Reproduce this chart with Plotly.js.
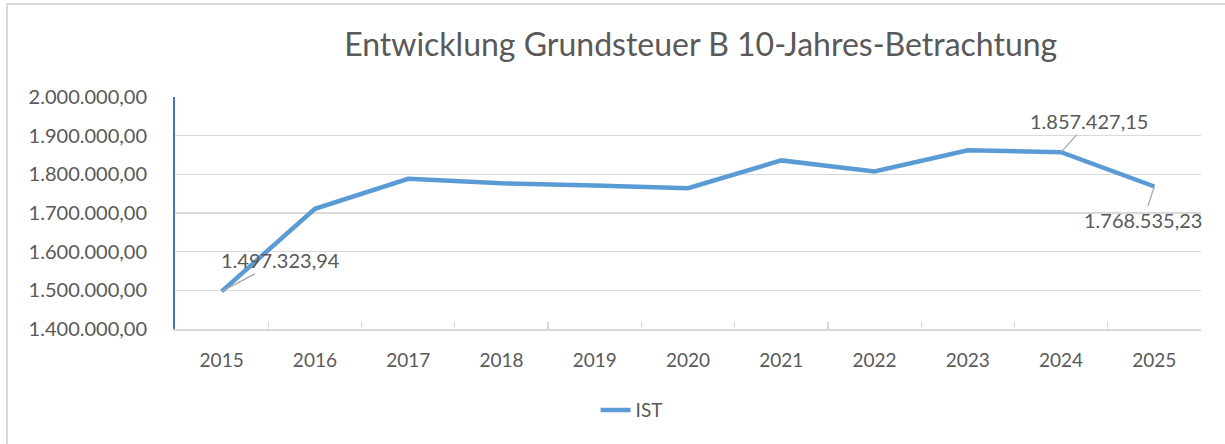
<!DOCTYPE html>
<html>
<head>
<meta charset="utf-8">
<script src="https://cdn.plot.ly/plotly-3.0.1.min.js"></script>
<style>
  html, body { margin: 0; padding: 0; background: #fff; }
  #chart { width: 1225px; height: 444px; }
  #frame { position: absolute; left: 6px; top: 3px; width: 1300px; height: 500px;
           border-left: 2px solid #d9d9d9; border-top: 2px solid #d9d9d9; pointer-events: none; }
</style>
</head>
<body>
<div id="chart"></div>
<div id="frame"></div>
<script>
const years = ['2015','2016','2017','2018','2019','2020','2021','2022','2023','2024','2025'];
const ist = [1497323.94, 1711000, 1788500, 1777000, 1771000, 1764000, 1836000, 1807500, 1862000, 1857427.15, 1768535.23];
const seriesName = 'IST';
const titleText = 'Entwicklung Grundsteuer B 10-Jahres-Betrachtung';
const labelled = [
  {idx: 0, text: '1.497.323,94', ax: 59, ay: -31},
  {idx: 9, text: '1.857.427,15', ax: 28, ay: -31},
  {idx: 10, text: '1.768.535,23', ax: -11, ay: 33}
];

const FONT = 'Lato, "Open Sans", sans-serif';
const TXT = '#595959';

const trace = {
  x: years, y: ist, name: seriesName, type: 'scatter', mode: 'lines',
  line: {color: '#5B9BD5', width: 4.5}
};

const annotations = labelled.map(l => ({
  x: l.idx, y: ist[l.idx], xref: 'x', yref: 'y',
  text: l.text, showarrow: true, arrowhead: 0, arrowwidth: 1.2, arrowcolor: '#a6a6a6',
  ax: l.ax, ay: l.ay, standoff: 0,
  font: {family: FONT, size: 20, color: TXT}
}));

const layout = {
  width: 1225, height: 444,
  margin: {l: 175, r: 24, t: 97, b: 115},
  paper_bgcolor: '#fff', plot_bgcolor: '#fff',
  separators: ',.',
  font: {family: FONT, color: TXT},
  title: {text: titleText, font: {family: FONT, size: 32, color: TXT}, x: 0.572, xanchor: 'center', y: 0.9, yanchor: 'middle'},
  xaxis: {
    type: 'category', categoryorder: 'array', categoryarray: years,
    range: [-0.5, years.length - 0.5], autorange: false,
    showgrid: false, zeroline: false,
    showline: true, linecolor: '#d9d9d9', linewidth: 1.5,
    ticks: 'inside', ticklen: 7, tickcolor: '#d9d9d9', tickwidth: 1.2, tickson: 'boundaries',
    tickangle: 0,
    tickfont: {family: FONT, size: 19, color: TXT}, ticklabelstandoff: 14,
    fixedrange: true
  },
  yaxis: {
    range: [1400000, 2000000], autorange: false, dtick: 100000, tickformat: ',.2f',
    showgrid: true, gridcolor: '#d9d9d9', gridwidth: 1.5, zeroline: false,
    showline: true, linecolor: '#4472C4', linewidth: 2,
    ticks: '', tickfont: {family: FONT, size: 20, color: TXT}, ticklabelstandoff: 22,
    fixedrange: true
  },
  showlegend: true,
  legend: {orientation: 'h', x: 0.445, xanchor: 'center', y: -0.35, yanchor: 'middle',
           font: {family: FONT, size: 19, color: TXT}, bgcolor: 'rgba(0,0,0,0)'},
  annotations: annotations
};

Plotly.newPlot('chart', [trace], layout, {displayModeBar: false, staticPlot: true});
</script>
</body>
</html>
